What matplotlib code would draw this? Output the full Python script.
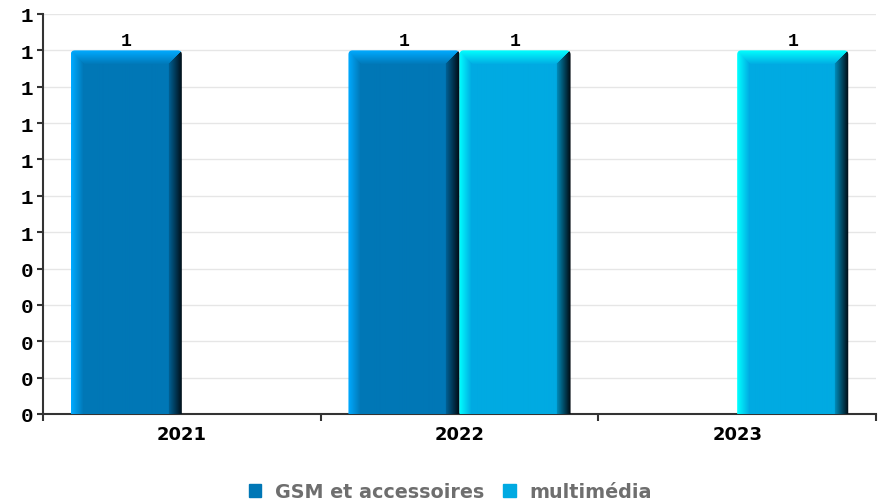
import numpy as np
import matplotlib
matplotlib.use("Agg")
import matplotlib.pyplot as plt
from matplotlib.patches import FancyBboxPatch
from matplotlib.ticker import FuncFormatter, MultipleLocator
from matplotlib.colors import to_rgb

years = ["2021", "2022", "2023"]
series = ["GSM et accessoires", "multimédia"]
gsm = [1, 1, 0]
multimedia = [0, 1, 1]

colors = ["#0077b6", "#00aae2"]
light = ["#00aaff", "#00ffff"]
mono = "Liberation Mono"

fig = plt.figure(figsize=(8.86, 5.02), dpi=100)
ax = fig.add_axes([43 / 886, 87 / 502, 833 / 886, 400 / 502])

x = np.arange(len(years))
w = 0.4


def shaded_bar(ax, bar, main, hi):
    # small picture of the bar with bevel shading, clipped to a top-rounded box
    x0, y0 = bar.get_x(), bar.get_y()
    bw, bh = bar.get_width(), bar.get_height()
    bar.set_visible(False)
    if bh <= 0:
        return
    p0 = ax.transData.transform((x0, y0))
    p1 = ax.transData.transform((x0 + bw, y0 + bh))
    wp, hp = int(round(p1[0] - p0[0])), int(round(p1[1] - p0[1]))
    main = np.array(to_rgb(main))
    hi = np.array(to_rgb(hi))
    dark = np.array([0.0, 0.04, 0.07])
    img = np.zeros((hp, wp, 3))
    b = 14
    for r in range(hp):
        for c in range(wp):
            dr = wp - 1 - c
            if dr < b and dr <= r:
                t = dr / b
                col = dark * (1 - t) + main * 0.85 * t
            elif r < b and r <= c:
                t = r / b
                col = hi * (1 - t) + main * t
            elif c < 12:
                t = c / 12
                col = hi * (1 - t) + main * t
            else:
                col = main
            img[r, c] = col
    im = ax.imshow(img, extent=(x0, x0 + bw, y0, y0 + bh), aspect="auto",
                   interpolation="bilinear", zorder=3)
    clip = FancyBboxPatch((x0, y0 - 0.1), bw, bh + 0.1,
                          boxstyle="round,pad=0,rounding_size=0.015",
                          mutation_aspect=1.1 / 400 / (3 / 833), transform=ax.transData,
                          facecolor="none", edgecolor="none")
    ax.add_patch(clip)
    im.set_clip_path(clip)
    ax.text(x0 + bw / 2, y0 + bh + 0.003, "1" if bh >= 0.5 else "0", ha="center",
            va="bottom", fontsize=13, fontweight="bold", family=mono, zorder=4)


b1 = ax.bar(x - w / 2, gsm, w, color=colors[0], label=series[0])
b2 = ax.bar(x + w / 2, multimedia, w, color=colors[1], label=series[1])

ax.set_xlim(-0.5, 2.5)
ax.set_ylim(0, 1.1)

for bar in b1:
    shaded_bar(ax, bar, colors[0], light[0])
for bar in b2:
    shaded_bar(ax, bar, colors[1], light[1])

ax.yaxis.set_major_locator(MultipleLocator(0.1))
ax.yaxis.set_major_formatter(FuncFormatter(lambda v, p: str(int(np.floor(v + 0.5 + 1e-9)))))
ax.grid(axis="y", color="#e6e6e6", linewidth=1, zorder=0)
ax.set_axisbelow(True)

ax.set_xticks([-0.5, 0.5, 1.5, 2.5])
ax.set_xticklabels([])
ax.set_xticks(x, minor=True)
ax.set_xticklabels(years, minor=True, fontsize=13, fontweight="bold")
ax.tick_params(axis="x", which="minor", length=0, pad=8)
ax.tick_params(axis="x", which="major", length=5, width=1.5, color="#333333")
ax.tick_params(axis="y", length=4, width=1.5, color="#333333", pad=3)
for lab in ax.get_yticklabels():
    lab.set_fontfamily(mono)
    lab.set_fontweight("bold")
    lab.set_fontsize(15)

for s in ["top", "right"]:
    ax.spines[s].set_visible(False)
for s in ["left", "bottom"]:
    ax.spines[s].set_color("#333333")
    ax.spines[s].set_linewidth(1.5)

handles = [plt.Rectangle((0, 0), 1, 1, color=c) for c in colors]
leg = fig.legend(handles, series, loc="center", bbox_to_anchor=(0.508, 0.018),
                 ncol=2, frameon=False, handlelength=0.65, handleheight=0.65,
                 handletextpad=0.7, columnspacing=1.0,
                 prop={"weight": "bold", "size": 13.8})
for t in leg.get_texts():
    t.set_color("#6e6e6e")

fig.savefig("out.png", dpi=100)
